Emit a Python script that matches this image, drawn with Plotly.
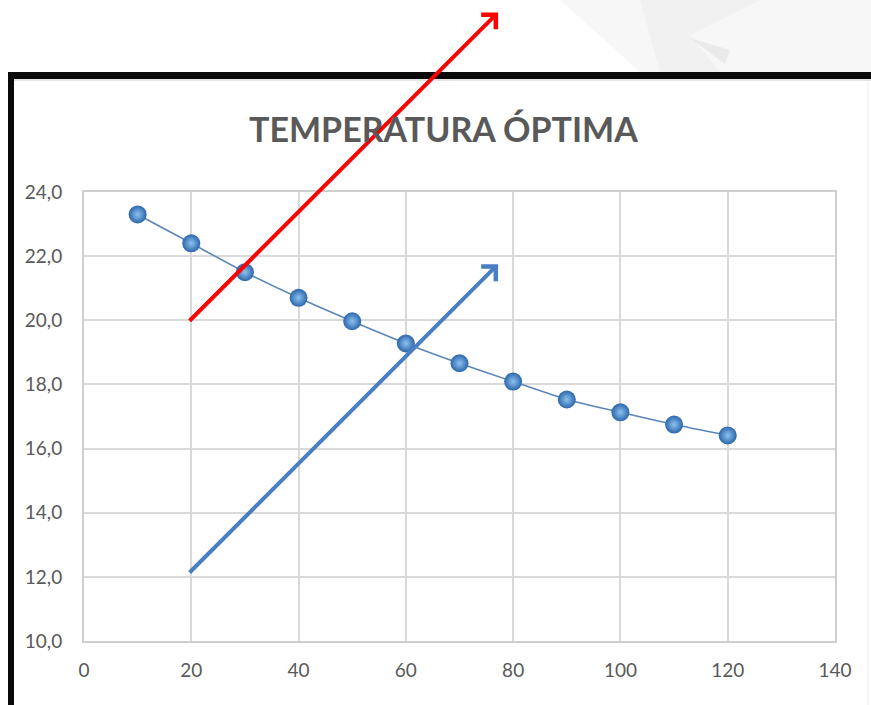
import plotly.graph_objects as go

# data
minutes = [10, 20, 30, 40, 50, 60, 70, 80, 90, 100, 110, 120]
temperature = [23.3, 22.4, 21.5, 20.7, 19.97, 19.28, 18.66, 18.09, 17.53, 17.13, 16.75, 16.41]

x_ticks = [0, 20, 40, 60, 80, 100, 120, 140]
y_ticks = [10, 12, 14, 16, 18, 20, 22, 24]

# arrows: (tail x, tail y, head x, head y) in data units
red_arrow = [19.4, 19.94, 77.2, 29.6]
blue_arrow = [19.4, 12.09, 77.2, 21.75]

W, H = 871, 705
FONT = "Lato, Open Sans, sans-serif"
GREY_TXT = "#595959"
GRID = "#d9d9d9"


def px(x):
    return x / W


def py(y):
    return 1 - y / H


fig = go.Figure()

fig.add_trace(go.Scatter(
    x=minutes,
    y=temperature,
    mode="lines+markers",
    line=dict(color="#5b86b8", width=1.6, shape="spline", smoothing=0.6),
    marker=dict(
        size=18,
        color="#2c66ab",
        gradient=dict(type="radial", color="#8cc2f0"),
        line=dict(width=0),
    ),
    cliponaxis=False,
    showlegend=False,
))

for (x0, y0, x1, y1), col in [(red_arrow, "#ff0000"), (blue_arrow, "#4a7ec2")]:
    fig.add_annotation(
        x=x1, y=y1, xref="x", yref="y",
        ax=x0, ay=y0, axref="x", ayref="y",
        showarrow=True, arrowhead=4, arrowsize=1, arrowwidth=4,
        arrowcolor=col, text="",
    )

# title
fig.add_annotation(
    x=px(443), y=py(128), xref="paper", yref="paper",
    text="<b>TEMPERATURA ÓPTIMA</b>", showarrow=False,
    font=dict(family=FONT, size=34, color=GREY_TXT),
    xanchor="center", yanchor="middle",
)

shapes = [
    # faint background picture at the top right
    dict(type="path", xref="paper", yref="paper", layer="below",
         path=f"M {px(560)},{py(0)} L {px(871)},{py(0)} L {px(871)},{py(72)} "
              f"L {px(640)},{py(72)} Z",
         fillcolor="#f7f7f7", line=dict(width=0)),
    dict(type="path", xref="paper", yref="paper", layer="below",
         path=f"M {px(640)},{py(0)} L {px(760)},{py(0)} L {px(690)},{py(35)} "
              f"L {px(720)},{py(72)} L {px(660)},{py(72)} Z",
         fillcolor="#f1f1f1", line=dict(width=0)),
    dict(type="path", xref="paper", yref="paper", layer="below",
         path=f"M {px(690)},{py(38)} L {px(730)},{py(50)} L {px(725)},{py(64)} Z",
         fillcolor="#eaeaea", line=dict(width=0)),
    # black frame
    dict(type="rect", xref="paper", yref="paper",
         x0=px(8), x1=px(871), y0=py(79), y1=py(72),
         fillcolor="#0a0a0a", line=dict(width=0)),
    dict(type="rect", xref="paper", yref="paper",
         x0=px(8), x1=px(14), y0=py(705), y1=py(72),
         fillcolor="#0a0a0a", line=dict(width=0)),
    dict(type="line", xref="paper", yref="paper",
         x0=px(14), x1=px(871), y0=py(80), y1=py(80),
         line=dict(color="#c8c8c8", width=1)),
    dict(type="line", xref="paper", yref="paper",
         x0=px(868), x1=px(868), y0=py(80), y1=py(705),
         line=dict(color="#ececec", width=1)),
]

fig.update_layout(
    width=W, height=H,
    margin=dict(l=0, r=0, t=0, b=0),
    paper_bgcolor="white",
    plot_bgcolor="white",
    separators=",.",
    shapes=shapes,
    xaxis=dict(
        domain=[px(84), px(835)],
        range=[0, 140],
        tickvals=x_ticks,
        showgrid=True, gridcolor=GRID, gridwidth=1.5,
        showline=True, linecolor="#cfcfcf", linewidth=2, mirror=True,
        zeroline=False, ticks="", ticklabelstandoff=11,
        tickfont=dict(family=FONT, size=19, color=GREY_TXT),
        automargin=False,
    ),
    yaxis=dict(
        domain=[py(641), py(192)],
        range=[10, 24],
        tickvals=y_ticks,
        tickformat=".1f",
        showgrid=True, gridcolor=GRID, gridwidth=1.5,
        showline=True, linecolor="#cfcfcf", linewidth=2, mirror=True,
        zeroline=False, ticks="", ticklabelstandoff=16,
        tickfont=dict(family=FONT, size=19, color=GREY_TXT),
        automargin=False,
    ),
)

# page body has an 8px default margin; remove it so the figure sits at 0,0
fig.write_html(
    "out.html",
    config={"displayModeBar": False},
    post_script="document.body.style.margin='0';",
)
